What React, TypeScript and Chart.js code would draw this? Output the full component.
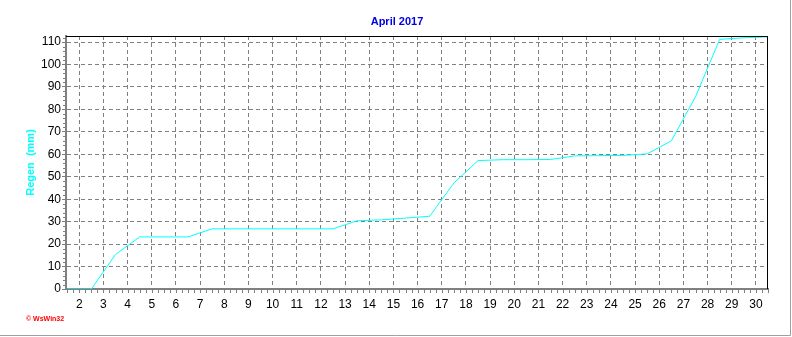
import React, { useEffect, useRef } from 'react';
import { Chart, registerables } from 'chart.js';
Chart.register(...registerables);

// Cumulative rain (mm), sampled at the end of each day (half-day positions)
const dayPositions = [1.5, 2.5, 3.5, 4.5, 5.5, 6.5, 7.5, 8.5, 9.5, 10.5, 11.5, 12.5, 13.5, 14.5, 15.5, 16.5, 17.5, 18.5, 19.5, 20.5, 21.5, 22.5, 23.5, 24.5, 25.5, 26.5, 27.5, 28.5, 29.5, 30.5];
const rainMm = [0, 0, 15.4, 23.2, 23.2, 23.2, 26.8, 26.8, 26.8, 26.8, 26.8, 26.8, 30.4, 30.8, 31.6, 32.4, 47.2, 57.2, 57.6, 57.6, 57.7, 59.3, 59.4, 59.5, 60.2, 66.0, 85.6, 111.2, 111.9, 112.3];
const xTicks = [2, 3, 4, 5, 6, 7, 8, 9, 10, 11, 12, 13, 14, 15, 16, 17, 18, 19, 20, 21, 22, 23, 24, 25, 26, 27, 28, 29, 30];
const yTicks = [0, 10, 20, 30, 40, 50, 60, 70, 80, 90, 100, 110];
const chartTitle = 'April 2017';

const FONT = '"Liberation Sans", Arial, sans-serif';
const GRID = '#808080';

const extras = {
  id: 'extras',
  afterDraw(chart: any) {
    const { ctx, chartArea } = chart;
    const xs = chart.scales.x;
    const ys = chart.scales.y;
    ctx.save();
    ctx.setLineDash([]);
    // top & right frame of plot
    ctx.strokeStyle = '#000';
    ctx.lineWidth = 1;
    ctx.beginPath();
    ctx.moveTo(chartArea.left, Math.round(chartArea.top) + 0.5);
    ctx.lineTo(chartArea.right, Math.round(chartArea.top) + 0.5);
    ctx.moveTo(Math.round(chartArea.right) - 0.5, chartArea.top);
    ctx.lineTo(Math.round(chartArea.right) - 0.5, chartArea.bottom);
    ctx.stroke();
    // x minor ticks (quarter days)
    ctx.strokeStyle = GRID;
    ctx.beginPath();
    const start = Math.ceil(xs.min * 4) / 4;
    for (let v = start; v <= xs.max + 1e-9; v += 0.25) {
      const px = Math.round(xs.getPixelForValue(v)) + 0.5;
      ctx.moveTo(px, chartArea.bottom + 1);
      ctx.lineTo(px, chartArea.bottom + 4);
    }
    // y minor ticks
    for (let v = 0; v <= ys.max; v += 2) {
      if (v % 10 === 0) continue;
      const py = Math.round(ys.getPixelForValue(v)) + 0.5;
      ctx.moveTo(chartArea.left - 3, py);
      ctx.lineTo(chartArea.left - 1, py);
    }
    ctx.stroke();
    // outer frame (right & bottom)
    ctx.strokeStyle = '#a0a0a0';
    ctx.beginPath();
    ctx.moveTo(chart.width - 1.5, 0);
    ctx.lineTo(chart.width - 1.5, chart.height - 1.5);
    ctx.lineTo(0, chart.height - 1.5);
    ctx.stroke();
    // title
    ctx.fillStyle = '#0000e0';
    ctx.font = 'bold 11px ' + FONT;
    ctx.textBaseline = 'middle';
    ctx.textAlign = 'center';
    ctx.fillText(chartTitle, chart.width / 2 + 1, 22);
    // watermark
    ctx.fillStyle = '#ff0000';
    ctx.font = 'bold 7px ' + FONT;
    ctx.textAlign = 'left';
    ctx.fillText('\u00A9 WsWin32', 26, 319);
    ctx.restore();
  },
};

export default function App() {
  const ref = useRef<HTMLCanvasElement>(null);
  useEffect(() => {
    document.body.style.margin = '0';
    Chart.defaults.font.family = FONT;
    const chart = new Chart(ref.current!, {
      type: 'line',
      data: {
        datasets: [
          {
            data: dayPositions.map((d, i) => ({ x: d, y: rainMm[i] })),
            borderColor: '#00ffff',
            borderWidth: 1,
            pointRadius: 0,
            fill: false,
            tension: 0,
          },
        ],
      },
      options: {
        animation: false,
        responsive: false,
        devicePixelRatio: 1,
        layout: { padding: { left: 0, right: 24, top: 36, bottom: 0 } },
        plugins: {
          legend: { display: false },
          tooltip: { enabled: false },
          title: { display: false },
        },
        scales: {
          x: {
            type: 'linear',
            min: 1.45,
            max: 30.5,
            afterBuildTicks: (s: any) => {
              s.ticks = xTicks.map((v) => ({ value: v }));
            },
            afterFit: (s: any) => {
              s.height = 48;
            },
            grid: {
              color: GRID,
              drawTicks: false,
            } as any,
            border: { color: GRID, width: 2, dash: [4, 3] },
            ticks: {
              color: '#000',
              font: { size: 12, family: FONT },
              padding: 8,
              maxRotation: 0,
              autoSkip: false,
            },
          },
          y: {
            min: 0,
            max: 112.7,
            afterBuildTicks: (s: any) => {
              s.ticks = yTicks.map((v) => ({ value: v }));
            },
            afterFit: (s: any) => {
              s.width = 66;
            },
            grid: {
              color: GRID,
              tickLength: 4,
              tickColor: GRID,
              tickBorderDash: [],
            } as any,
            border: { color: GRID, width: 2, dash: [4, 3] },
            ticks: {
              color: '#000',
              font: { size: 12, family: FONT },
              padding: 1,
            },
            title: {
              display: true,
              text: 'Regen  (mm)',
              color: '#00ffff',
              font: { size: 11, weight: 'bold', family: FONT },
              padding: { top: 24.4, bottom: 0 },
            },
          },
        },
      },
      plugins: [extras],
    } as any);
    return () => chart.destroy();
  }, []);
  return (
    <div style={{ position: 'relative', width: 792, height: 337, background: '#fff' }}>
      <canvas ref={ref} width={792} height={337} style={{ display: 'block', width: 792, height: 337 }} />
    </div>
  );
}
